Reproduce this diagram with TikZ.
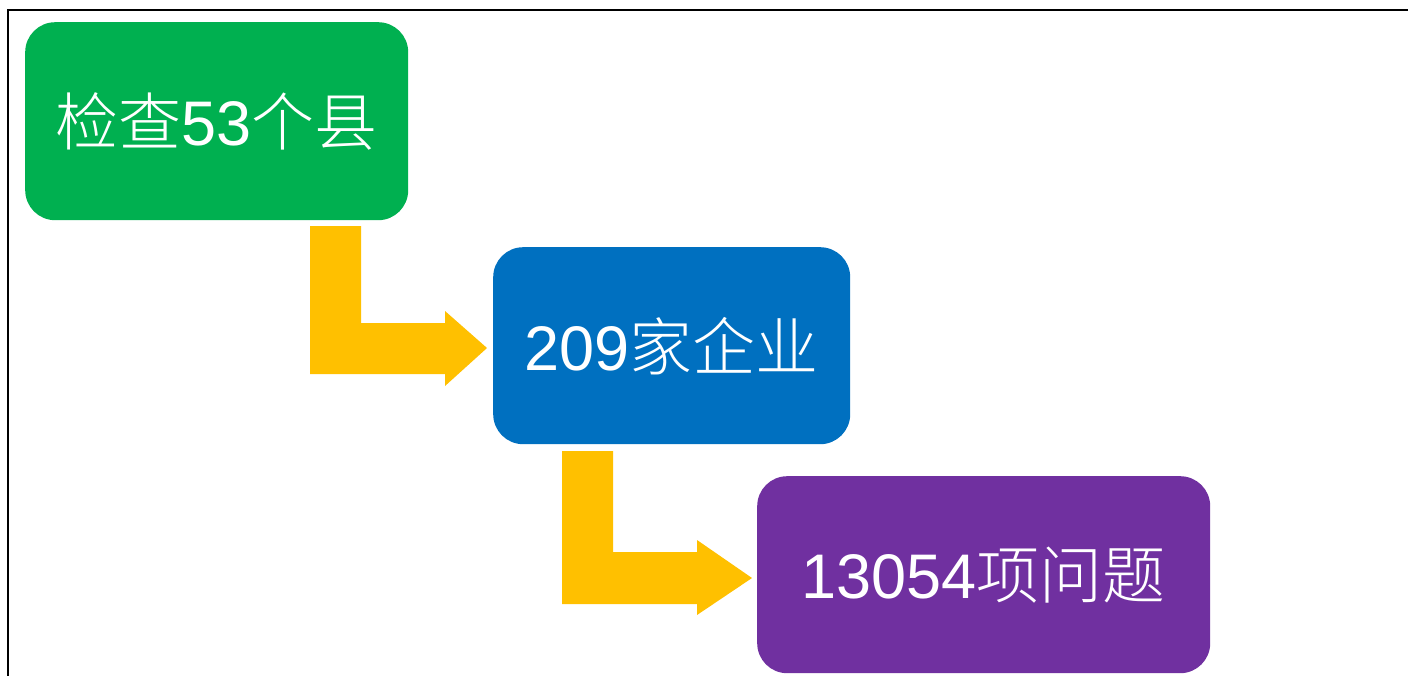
\documentclass[tikz,border=0pt]{standalone}
\usepackage{fontspec}
\setmainfont{Liberation Sans}
\newfontfamily\cjk{Noto Sans CJK SC Light}
\usetikzlibrary{calc}
\definecolor{pgreen}{HTML}{00B050}
\definecolor{pblue}{HTML}{0070C0}
\definecolor{ppurple}{HTML}{7030A0}
\definecolor{pyellow}{HTML}{FFC000}
\begin{document}
\begin{tikzpicture}[x=1pt,y=-1pt,
  box/.style={rectangle,rounded corners=30pt,anchor=north west,inner sep=0pt,
    text=white,font=\fontsize{63}{70}\selectfont},
  blockarrow/.style={fill=pyellow,draw=none}]
\useasboundingbox (0,0) rectangle (1408,675);
\fill[white] (0,0) rectangle (1408,675);
\draw[line width=2pt,black] (8,676) -- (8,10) -- (1409,10);
\node[box,fill=pgreen,minimum width=383pt,minimum height=198pt] (g) at (25,22) {{\cjk 检查}53{\cjk 个县}};
\node[box,fill=pblue,minimum width=357pt,minimum height=197pt] (b) at (493,247) {209{\cjk 家企业}};
\node[box,fill=ppurple,minimum width=453pt,minimum height=197pt] (p) at (757,476) {13054{\cjk 项问题}};
% block arrow 1 (green -> blue)
\fill[blockarrow] (310,226) -- (361,226) -- (361,323) -- (445,323) -- (445,311)
  -- (487,348) -- (445,386) -- (445,374) -- (310,374) -- cycle;
% block arrow 2 (blue -> purple)
\fill[blockarrow] (562,451) -- (613,451) -- (613,552) -- (697,552) -- (697,540)
  -- (752,578) -- (697,615) -- (697,604) -- (562,604) -- cycle;
\end{tikzpicture}
\end{document}
